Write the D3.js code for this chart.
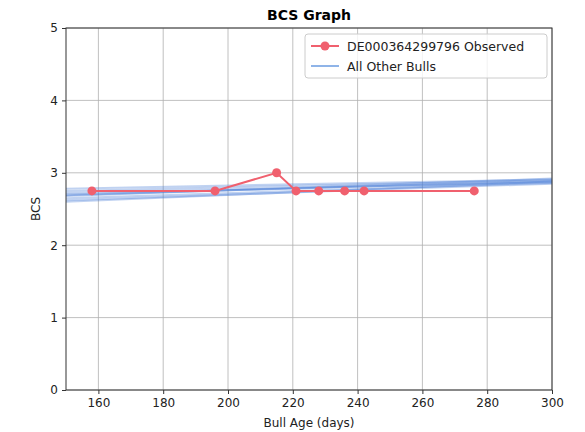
<!DOCTYPE html>
<html><head><meta charset="utf-8">
<script src="https://cdn.jsdelivr.net/npm/d3@7"></script>
<style>body{margin:0;background:#fff;} svg{display:block;font-family:"DejaVu Sans",sans-serif;}</style>
</head><body>
<svg id="c" width="585" height="432"></svg>
<script>
const xTicks = [160,180,200,220,240,260,280,300];
const yTicks = [0,1,2,3,4,5];
const obsAge = [158,196,215,221,228,236,242,276];
const obsBCS = [2.75,2.75,3.0,2.75,2.75,2.75,2.75,2.75];
const otherStart = [2.75,2.70,2.68,2.65,2.62,2.72,2.60,2.78,2.69];
const otherEnd   = [2.90,2.88,2.92,2.86,2.85,2.87,2.88,2.91,2.89];
const otherAgeRange = [150,300];

const W=585,H=432, m={l:66,r:33,t:28,b:42};
const svg=d3.select("#c");
const x=d3.scaleLinear().domain([150,300]).range([m.l,W-m.r]);
const y=d3.scaleLinear().domain([0,5]).range([H-m.b,m.t]);

// grid
svg.append("g").selectAll("line").data(xTicks).join("line")
 .attr("x1",d=>x(d)).attr("x2",d=>x(d)).attr("y1",y(0)).attr("y2",y(5))
 .attr("stroke","#b0b0b0").attr("stroke-width",0.8);
svg.append("g").selectAll("line").data(yTicks).join("line")
 .attr("y1",d=>y(d)).attr("y2",d=>y(d)).attr("x1",x(150)).attr("x2",x(300))
 .attr("stroke","#b0b0b0").attr("stroke-width",0.8);

// other bulls
const line=d3.line().x(d=>x(d[0])).y(d=>y(d[1]));
svg.append("g").selectAll("path").data(otherStart.map((s,i)=>[[otherAgeRange[0],s],[otherAgeRange[1],otherEnd[i]]])).join("path")
 .attr("d",line).attr("fill","none").attr("stroke","#4a7fd6").attr("stroke-opacity",0.35).attr("stroke-width",2);

// observed
const obs=obsAge.map((a,i)=>[a,obsBCS[i]]);
svg.append("path").datum(obs).attr("d",line).attr("fill","none").attr("stroke","#f0606e").attr("stroke-width",2);
svg.append("g").selectAll("circle").data(obs).join("circle")
 .attr("cx",d=>x(d[0])).attr("cy",d=>y(d[1])).attr("r",4.5).attr("fill","#f0606e");

// axes
const xa=svg.append("g").attr("transform",`translate(0,${y(0)})`).call(d3.axisBottom(x).tickValues(xTicks).tickSize(4).tickPadding(4));
const ya=svg.append("g").attr("transform",`translate(${x(150)},0)`).call(d3.axisLeft(y).tickValues(yTicks).tickFormat(d3.format("d")).tickSize(4).tickPadding(4));
[xa,ya].forEach(a=>{a.select(".domain").remove();a.selectAll("text").attr("font-size",12).attr("fill","#222").attr("font-family","DejaVu Sans");a.selectAll("line").attr("stroke","#333");});
svg.append("rect").attr("x",x(150)).attr("y",y(5)).attr("width",x(300)-x(150)).attr("height",y(0)-y(5))
 .attr("fill","none").attr("stroke","#333").attr("stroke-width",1);

// labels
svg.append("text").attr("x",(x(150)+x(300))/2).attr("y",20).attr("text-anchor","middle").attr("font-weight","bold").attr("font-size",14).text("BCS Graph");
svg.append("text").attr("x",(x(150)+x(300))/2).attr("y",427).attr("text-anchor","middle").attr("font-size",12).attr("fill","#222").text("Bull Age (days)");
svg.append("text").attr("transform",`translate(40,${(y(0)+y(5))/2}) rotate(-90)`).attr("text-anchor","middle").attr("font-size",12).attr("fill","#222").text("BCS");

// legend
const lg=svg.append("g");
lg.append("rect").attr("x",305).attr("y",34).attr("width",242).attr("height",44).attr("rx",3)
 .attr("fill","#fff").attr("fill-opacity",0.8).attr("stroke","#ccc");
lg.append("line").attr("x1",311).attr("x2",339).attr("y1",46).attr("y2",46).attr("stroke","#f0606e").attr("stroke-width",2);
lg.append("circle").attr("cx",325).attr("cy",46).attr("r",4.5).attr("fill","#f0606e");
lg.append("text").attr("x",347).attr("y",50.5).attr("font-size",12.5).attr("fill","#222").text("DE000364299796 Observed");
lg.append("line").attr("x1",311).attr("x2",339).attr("y1",66).attr("y2",66).attr("stroke","#6a9be0").attr("stroke-width",1.5);
lg.append("text").attr("x",347).attr("y",70.5).attr("font-size",12.5).attr("fill","#222").text("All Other Bulls");
</script>
</body></html>
